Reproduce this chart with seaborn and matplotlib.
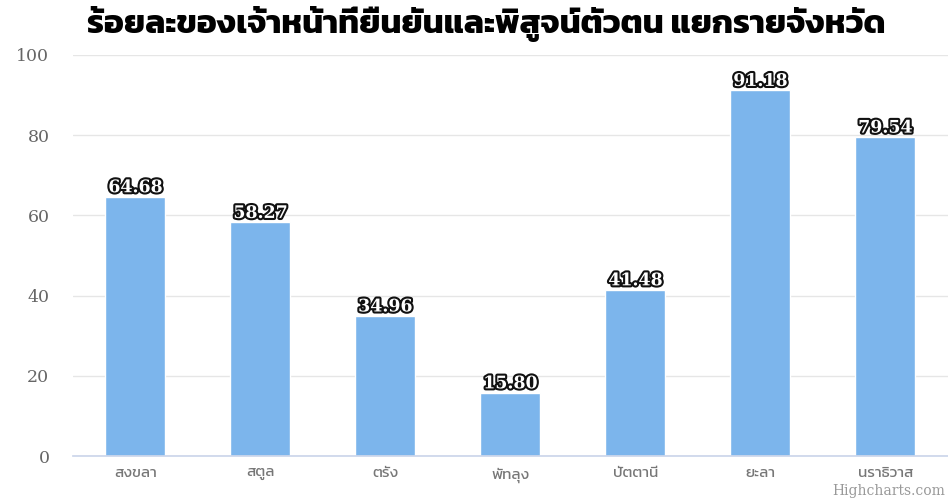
import matplotlib
matplotlib.use("Agg")
import matplotlib.pyplot as plt
import matplotlib.patheffects as pe
import seaborn as sns
import pandas as pd

provinces = ["สงขลา", "สตูล", "ตรัง", "พัทลุง", "ปัตตานี", "ยะลา", "นราธิวาส"]
percent = [64.68, 58.27, 34.96, 15.80, 41.48, 91.18, 79.54]
yticks = [0, 20, 40, 60, 80, 100]
title = "ร้อยละของเจ้าหน้าที่ยืนยันและพิสูจน์ตัวตน แยกรายจังหวัด"

df = pd.DataFrame({"province": provinces, "percent": percent})

sns.set_theme(style="white")
plt.rcParams["font.family"] = ["Kanit", "DejaVu Sans"]

fig = plt.figure(figsize=(9.48, 5.04), dpi=100)
ax = fig.add_axes([0.077, 0.095, 0.923, 0.796])

sns.barplot(data=df, x="province", y="percent", color="#7cb5ec", width=0.48,
            saturation=1, ax=ax, zorder=3)

ax.set_ylim(0, 100)
ax.set_xlim(-0.5, len(provinces) - 0.5)
ax.set_yticks(yticks)
ax.set_yticklabels([str(v) for v in yticks], family=["DejaVu Serif"], color="#666666", fontsize=12.5)
ax.tick_params(axis="y", length=0, pad=17)
ax.set_xticks(range(len(provinces)))
ax.set_xticklabels(provinces, family=["Kanit", "DejaVu Sans"], fontweight="normal",
                   fontsize=11, color="#777777")
ax.tick_params(axis="x", length=0, pad=8)
ax.yaxis.grid(True, color="#e6e6e6", linewidth=1, zorder=0)
for s in ["top", "right", "left"]:
    ax.spines[s].set_visible(False)
ax.spines["bottom"].set_color("#ccd6eb")
ax.spines["bottom"].set_zorder(4)
ax.set_xlabel("")
ax.set_ylabel("")

for i, v in enumerate(percent):
    ax.text(i, v + 0.1, f"{v:.2f}", ha="center", va="bottom", family=["DejaVu Serif"],
            fontsize=12.5, fontweight="bold", color="white", zorder=5,
            path_effects=[pe.withStroke(linewidth=3, foreground="#111111")])

fig.text(0.513, 0.952, title, ha="center", va="center", fontsize=24, fontweight="bold",
         family=["Kanit", "DejaVu Sans"], color="black")
fig.text(0.997, 0.012, "Highcharts.com", ha="right", va="bottom", family=["DejaVu Serif"],
         fontsize=10, color="#999999")

fig.savefig("out.png", dpi=100)
